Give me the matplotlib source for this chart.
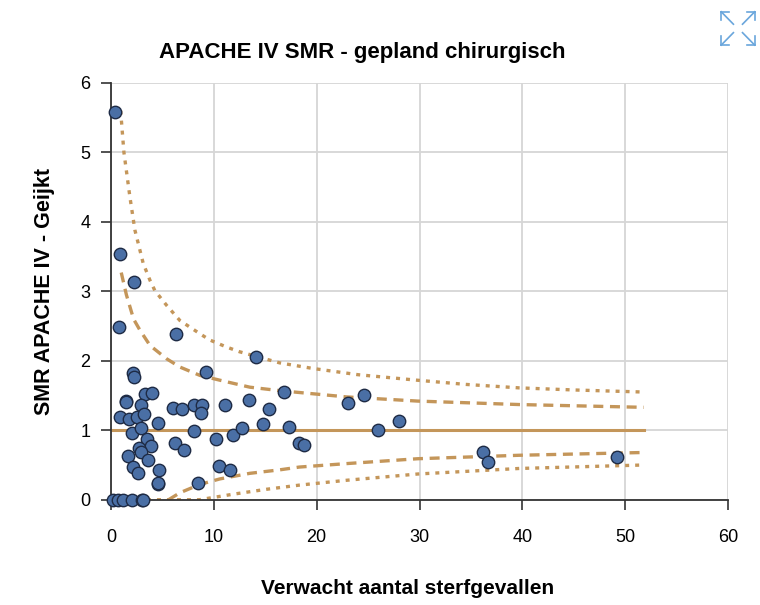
import numpy as np
import matplotlib.pyplot as plt

plt.rcParams['font.family'] = ['Liberation Sans', 'DejaVu Sans']

# expected deaths (x) and SMR (y) per unit
exp_deaths = [0.36, 0.87, 2.23, 0.80, 6.30, 14.1, 9.20, 16.8, 2.17, 2.23,
              1.46, 1.50, 3.30, 3.95, 2.90, 6.05, 6.92, 8.10, 8.83, 8.77,
              11.07, 13.4, 15.4, 0.87, 1.78, 2.55, 3.24, 4.56, 2.07, 2.94,
              8.09, 10.26, 11.84, 12.7, 14.76, 17.3, 18.3, 18.8, 3.53, 3.85,
              2.69, 2.94, 1.65, 3.56, 6.18, 7.12, 2.14, 2.65, 4.66, 4.56,
              4.60, 8.45, 10.5, 11.6, 23.08, 24.6, 26.0, 27.96, 36.15, 36.67,
              49.2, 0.22, 0.71, 1.19, 2.07, 2.98, 3.13]
smr = [5.58, 3.53, 3.13, 2.48, 2.38, 2.05, 1.84, 1.55, 1.82, 1.76,
       1.42, 1.40, 1.52, 1.54, 1.37, 1.32, 1.31, 1.37, 1.37, 1.25,
       1.36, 1.43, 1.31, 1.19, 1.16, 1.19, 1.24, 1.11, 0.96, 1.03,
       0.99, 0.87, 0.93, 1.03, 1.09, 1.04, 0.82, 0.79, 0.87, 0.78,
       0.75, 0.69, 0.63, 0.57, 0.82, 0.71, 0.47, 0.39, 0.43, 0.22,
       0.24, 0.24, 0.48, 0.43, 1.39, 1.51, 1.00, 1.14, 0.69, 0.54,
       0.61, 0.0, 0.0, 0.0, 0.0, 0.0, 0.0]

# control limits
up99_x = [0.94, 1.26, 1.84, 2.33, 3.14, 3.79, 4.27, 5.4, 6.7, 8.64, 9.6,
          11.2, 12.5, 16.4, 19.6, 24.0, 29.8, 34.5, 39.7, 45.0, 51.8]
up99_y = [5.60, 5.00, 4.36, 3.88, 3.40, 3.16, 3.01, 2.80, 2.58, 2.39, 2.30,
          2.20, 2.13, 1.97, 1.89, 1.80, 1.72, 1.66, 1.61, 1.58, 1.55]
up95_x = [1.0, 1.5, 2.2, 2.82, 3.8, 5.4, 6.7, 8.64, 10.6, 13.5, 16.4,
          22.9, 29.8, 39.7, 51.8]
up95_y = [3.27, 2.95, 2.60, 2.44, 2.22, 2.03, 1.91, 1.79, 1.72, 1.62, 1.57,
          1.48, 1.42, 1.37, 1.33]
lo95_x = [5.6, 6.7, 8.64, 10.6, 13.5, 16.4, 18.3, 22.9, 29.8, 39.7, 51.8]
lo95_y = [0.0, 0.10, 0.22, 0.30, 0.38, 0.43, 0.47, 0.52, 0.59, 0.64, 0.68]
lo99_x = [3.5, 8.6, 11.9, 15.1, 18.3, 22.9, 29.8, 39.7, 51.8]
lo99_y = [0.0, 0.0, 0.08, 0.15, 0.21, 0.28, 0.37, 0.45, 0.50]
ref_x = [0, 51.8]
ref_y = [1, 1]

line_col = '#C4965A'

fig = plt.figure(figsize=(7.6, 6.05), dpi=100)
ax = fig.add_axes([0.146, 0.174, 0.812, 0.689])

ax.plot(ref_x, ref_y, color=line_col, lw=2.2, zorder=2)
ax.plot(up95_x, up95_y, color=line_col, lw=2.4, dashes=(3, 2), zorder=2)
ax.plot(lo95_x, lo95_y, color=line_col, lw=2.4, dashes=(3, 2), zorder=2)
ax.plot(up99_x, up99_y, color=line_col, lw=2.4, dashes=(1.2, 1.8), zorder=2)
ax.plot(lo99_x, lo99_y, color=line_col, lw=2.4, dashes=(1.2, 1.8), zorder=2)

ax.scatter(exp_deaths, smr, s=80, color='#4A6FA5', edgecolor='#1E2B45',
           linewidth=1.0, zorder=3, clip_on=False)

ax.set_xlim(0, 60)
ax.set_ylim(0, 6)
ax.set_xticks(range(0, 61, 10))
ax.set_yticks(range(0, 7))
ax.grid(True, color='#D6D6D6', lw=1.3)
ax.set_axisbelow(True)
for s in ['top', 'right']:
    ax.spines[s].set_visible(False)
for s in ['left', 'bottom']:
    ax.spines[s].set_color('#333333')
    ax.spines[s].set_linewidth(1.3)
ax.tick_params(direction='out', length=7, width=1.2, color='#333333',
               labelsize=13)
ax.tick_params(axis='x', pad=14)
ax.tick_params(axis='y', pad=8)

ax.set_title('APACHE IV SMR - gepland chirurgisch', fontsize=16,
             fontweight='bold', pad=18, x=0.408)
ax.set_xlabel('Verwacht aantal sterfgevallen', fontsize=15,
              fontweight='bold', labelpad=24)
ax.xaxis.label.set_x(0.481)
ax.set_ylabel('SMR APACHE IV - Geijkt', fontsize=15.5, fontweight='bold',
              labelpad=18)

# expand icon in the top right corner
icon = '#6AA6DC'
cx, cy, d = 0.971, 0.953, 0.022
for sx, sy in [(-1, 1), (1, 1), (-1, -1), (1, -1)]:
    fig.add_artist(plt.Line2D([cx + sx * 0.006, cx + sx * d],
                              [cy + sy * 0.007, cy + sy * d * 1.25],
                              color=icon, lw=1.2))
    fig.add_artist(plt.Line2D([cx + sx * d, cx + sx * d],
                              [cy + sy * d * 1.25, cy + sy * d * 0.6],
                              color=icon, lw=1.2))
    fig.add_artist(plt.Line2D([cx + sx * d, cx + sx * d * 0.55],
                              [cy + sy * d * 1.25, cy + sy * d * 1.25],
                              color=icon, lw=1.2))

fig.savefig('out.png', dpi=100)
